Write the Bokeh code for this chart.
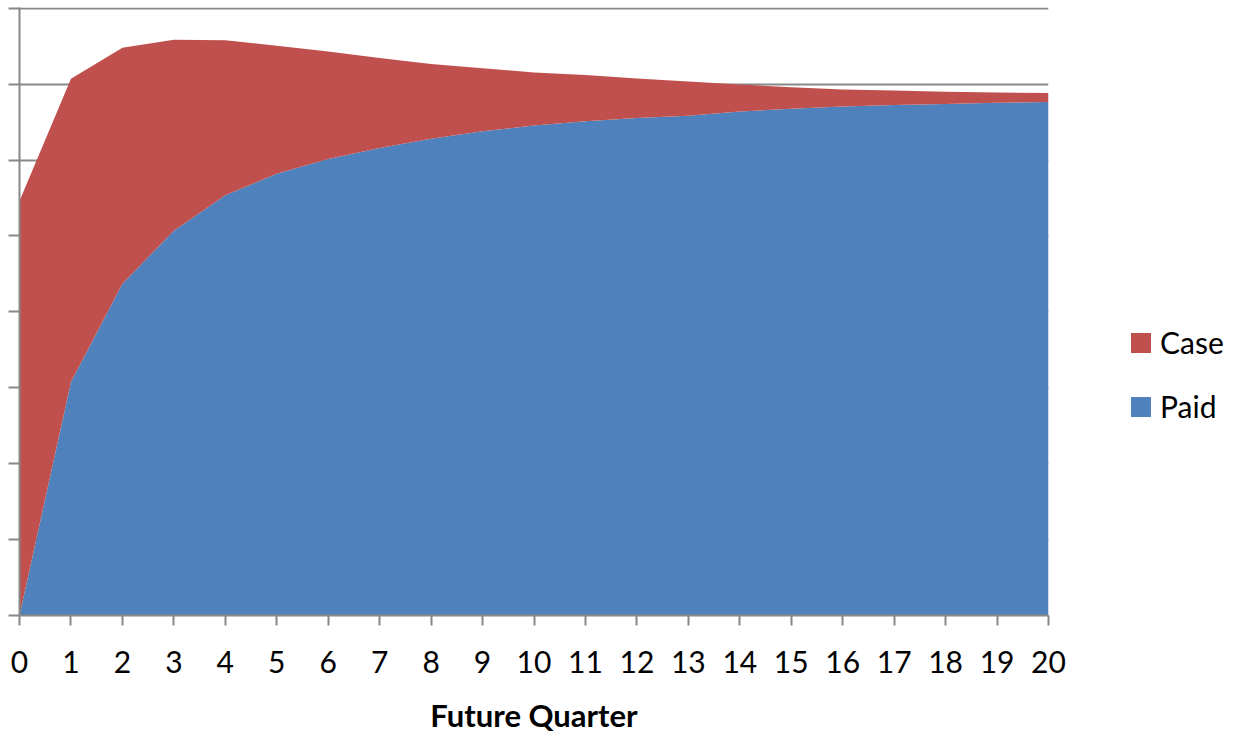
from bokeh.plotting import figure
from bokeh.models import Range1d, Legend, LegendItem, FixedTicker, ColumnDataSource
from bokeh.embed import file_html
from bokeh.resources import INLINE

quarters = list(range(0, 21))
paid = [0.0, 61.5, 87.4, 101.4, 110.7, 116.4, 120.3, 123.2, 125.6, 127.6, 129.1,
        130.2, 131.1, 131.7, 132.8, 133.5, 134.1, 134.5, 134.8, 135.1, 135.3]
case = [109.2, 79.9, 62.2, 50.3, 40.9, 33.7, 28.3, 23.7, 19.7, 16.6, 14.0,
        12.2, 10.4, 9.0, 7.1, 5.7, 4.5, 3.8, 3.2, 2.7, 2.4]
x_ticks = list(range(0, 21))
y_ticks = [0, 20, 40, 60, 80, 100, 120, 140, 160]
x_title = "Future Quarter"

src = ColumnDataSource(dict(x=quarters, Paid=paid, Case=case))

p = figure(output_backend="svg", toolbar_location=None,
           frame_width=1029, frame_height=608,
           x_range=Range1d(0, 20), y_range=Range1d(0, 160.2),
           min_border_left=19, min_border_top=7, min_border_right=187,
           min_border_bottom=10)
p.outline_line_color = None
p.background_fill_color = "white"
p.border_fill_color = "white"

renderers = p.varea_stack(["Paid", "Case"], x="x", source=src,
                          color=["#4F81BD", "#C0504D"])

GRAY = "#888888"
FONT = "Lato"

xa = p.xaxis[0]
xa.ticker = FixedTicker(ticks=x_ticks)
xa.minor_tick_line_color = None
xa.major_tick_in = 0
xa.major_tick_out = 10
xa.major_tick_line_color = GRAY
xa.major_tick_line_width = 2
xa.axis_line_color = GRAY
xa.axis_line_width = 2
xa.major_label_text_font = FONT
xa.major_label_text_font_size = "30px"
xa.major_label_text_color = "black"
xa.major_label_standoff = 25
xa.axis_label = x_title
xa.axis_label_text_font = FONT
xa.axis_label_text_font_size = "31px"
xa.axis_label_text_font_style = "bold"
xa.axis_label_text_color = "black"
xa.axis_label_standoff = 20

ya = p.yaxis[0]
ya.ticker = FixedTicker(ticks=y_ticks)
ya.minor_tick_line_color = None
ya.major_tick_in = 0
ya.major_tick_out = 11
ya.major_tick_line_color = GRAY
ya.major_tick_line_width = 2
ya.axis_line_color = GRAY
ya.axis_line_width = 2
ya.major_label_overrides = {t: "" for t in y_ticks}
ya.major_label_standoff = 0
ya.major_label_text_font_size = "1px"

p.xgrid.grid_line_color = None
p.ygrid.ticker = FixedTicker(ticks=y_ticks)
p.ygrid.grid_line_color = GRAY
p.ygrid.grid_line_width = 2
p.ygrid.level = "underlay"

legend = Legend(items=[LegendItem(label="Case", renderers=[renderers[1]]),
                       LegendItem(label="Paid", renderers=[renderers[0]])],
                location=(80, 191), orientation="vertical",
                glyph_width=25, glyph_height=25, label_text_font=FONT,
                label_text_font_size="30px", label_text_color="black",
                label_standoff=7, spacing=28, padding=0, margin=0,
                border_line_color=None, background_fill_alpha=0)
p.add_layout(legend, "right")

open("out.html", "w").write(file_html(p, INLINE))
